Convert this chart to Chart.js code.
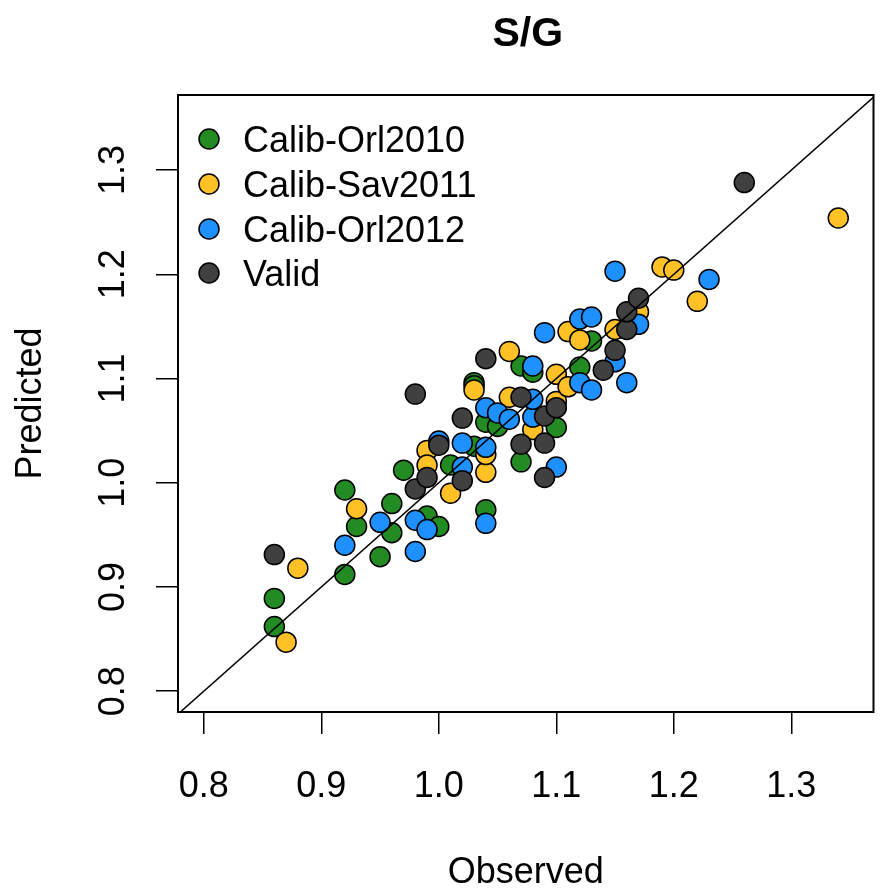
<!DOCTYPE html>
<html>
<head>
<meta charset="utf-8">
<script src="https://cdn.jsdelivr.net/npm/chart.js@4.4.1/dist/chart.umd.min.js"></script>
<style>
html,body{margin:0;padding:0;background:#fff;}
#wrap{width:885px;height:893px;position:relative;}
</style>
</head>
<body>
<div id="wrap"><canvas id="c"></canvas></div>
<script>
const seriesNames = ['Calib-Orl2010','Calib-Sav2011','Calib-Orl2012','Valid'];
const seriesColors = ['#228B22','#FFC125','#1E90FF','#404040'];

const orl2010X = [0.86,0.86,0.92,0.92,0.93,0.95,0.96,0.96,0.97,0.99,1.00,1.01,1.03,1.03,1.03,1.04,1.04,1.05,1.07,1.07,1.08,1.10,1.12,1.13];
const orl2010Y = [0.862,0.889,0.993,0.912,0.958,0.929,0.980,0.952,1.012,0.968,0.958,1.017,1.035,1.096,1.093,0.974,1.058,1.054,1.112,1.020,1.106,1.053,1.111,1.136];

const sav2011X = [0.87,0.88,0.93,0.99,0.99,1.01,1.03,1.04,1.04,1.06,1.06,1.08,1.10,1.10,1.11,1.11,1.12,1.15,1.17,1.19,1.20,1.22,1.34];
const sav2011Y = [0.847,0.918,0.975,1.031,1.017,0.990,1.089,1.010,1.027,1.126,1.082,1.051,1.104,1.078,1.092,1.145,1.137,1.147,1.164,1.207,1.204,1.174,1.254];

const orl2012X = [0.92,0.95,0.98,0.98,0.99,1.00,1.02,1.02,1.04,1.04,1.04,1.05,1.06,1.08,1.08,1.08,1.09,1.10,1.12,1.13,1.12,1.13,1.15,1.15,1.16,1.17,1.23];
const orl2012Y = [0.940,0.962,0.964,0.934,0.955,1.040,1.038,1.015,1.034,0.961,1.072,1.067,1.061,1.063,1.080,1.112,1.144,1.015,1.096,1.089,1.157,1.159,1.203,1.116,1.096,1.152,1.195];

const validX = [0.86,0.98,0.98,0.99,1.00,1.02,1.02,1.04,1.07,1.07,1.09,1.10,1.09,1.09,1.14,1.15,1.16,1.16,1.17,1.26];
const validY = [0.931,1.085,0.994,1.005,1.036,1.062,1.002,1.119,1.082,1.037,1.064,1.072,1.038,1.005,1.108,1.127,1.147,1.164,1.177,1.288];

const xTicks = [0.8,0.9,1.0,1.1,1.2,1.3];
const yTicks = [0.8,0.9,1.0,1.1,1.2,1.3];
const xTickLabels = ['0.8','0.9','1.0','1.1','1.2','1.3'];
const yTickLabels = ['0.8','0.9','1.0','1.1','1.2','1.3'];
const diagX = [0.7,1.5];
const diagY = [0.7,1.5];

const chartTitle = 'S/G';
const xTitle = 'Observed';
const yTitle = 'Predicted';

function pts(xs, ys){ return xs.map((x,i)=>({x:x, y:ys[i]})); }

const FONT = '"Liberation Sans", Arial, sans-serif';

const seriesData = [pts(orl2010X,orl2010Y), pts(sav2011X,sav2011Y), pts(orl2012X,orl2012Y), pts(validX,validY)];
const datasets = seriesData.map((d,i)=>({
  label: seriesNames[i],
  data: d,
  backgroundColor: seriesColors[i],
  borderColor: '#000',
  borderWidth: 1.5,
  pointRadius: 10,
  pointHoverRadius: 10,
  order: 4 - i
}));
datasets.push({
  label: '1:1',
  data: pts(diagX, diagY),
  showLine: true,
  borderColor: '#000',
  borderWidth: 1.5,
  pointRadius: 0,
  fill: false,
  order: 0
});

const decor = {
  id: 'decor',
  afterDraw(chart){
    const ctx = chart.ctx, a = chart.chartArea;
    const xs = chart.scales.x, ys = chart.scales.y;
    ctx.save();
    ctx.strokeStyle = '#000';
    ctx.lineWidth = 2;
    ctx.strokeRect(a.left, a.top, a.right - a.left, a.bottom - a.top);
    ctx.fillStyle = '#000';
    ctx.font = 'bold 41px ' + FONT;
    ctx.textAlign = 'center';
    ctx.textBaseline = 'alphabetic';
    ctx.fillText(chartTitle, (a.left + a.right)/2 + 2, 46);
    ctx.font = '36px ' + FONT;
    xTicks.forEach((v,i)=>{
      ctx.fillText(xTickLabels[i], xs.getPixelForValue(v), 797);
    });
    ctx.fillText(xTitle, (a.left + a.right)/2, 883);
    yTicks.forEach((v,i)=>{
      ctx.save();
      ctx.translate(124, ys.getPixelForValue(v));
      ctx.rotate(-Math.PI/2);
      ctx.textAlign = 'center';
      ctx.fillText(yTickLabels[i], 0, 0);
      ctx.restore();
    });
    ctx.save();
    ctx.translate(41, (a.top + a.bottom)/2);
    ctx.rotate(-Math.PI/2);
    ctx.textAlign = 'center';
    ctx.fillText(yTitle, 0, 0);
    ctx.restore();
    const ly = [139,184,229,273];
    ctx.textAlign = 'left';
    seriesNames.forEach((n,i)=>{
      ctx.beginPath();
      ctx.arc(209, ly[i], 10, 0, Math.PI*2);
      ctx.fillStyle = seriesColors[i];
      ctx.fill();
      ctx.lineWidth = 1.5;
      ctx.strokeStyle = '#000';
      ctx.stroke();
      ctx.fillStyle = '#000';
      ctx.fillText(n, 243, ly[i] + 13);
    });
    ctx.restore();
  }
};

new Chart(document.getElementById('c'), {
  type: 'scatter',
  data: { datasets: datasets },
  options: {
    responsive: true,
    maintainAspectRatio: false,
    animation: false,
    events: [],
    layout: { padding: { top: 95, right: 5, left: 0, bottom: 0 } },
    plugins: { legend: { display: false }, title: { display: false }, tooltip: { enabled: false } },
    scales: {
      x: {
        type: 'linear', min: 0.778, max: 1.37,
        afterBuildTicks(s){ s.ticks = xTicks.map(v=>({value:v})); },
        afterFit(s){ s.height = 181; },
        ticks: { display: false },
        grid: { display: true, drawOnChartArea: false, drawTicks: true, tickLength: 22, color: '#000', lineWidth: 1.5 },
        border: { display: false }
      },
      y: {
        type: 'linear', min: 0.780, max: 1.372,
        afterBuildTicks(s){ s.ticks = yTicks.map(v=>({value:v})); },
        afterFit(s){ s.width = 178; },
        ticks: { display: false },
        grid: { display: true, drawOnChartArea: false, drawTicks: true, tickLength: 22, color: '#000', lineWidth: 1.5 },
        border: { display: false }
      }
    }
  },
  plugins: [decor]
});
</script>
</body>
</html>
